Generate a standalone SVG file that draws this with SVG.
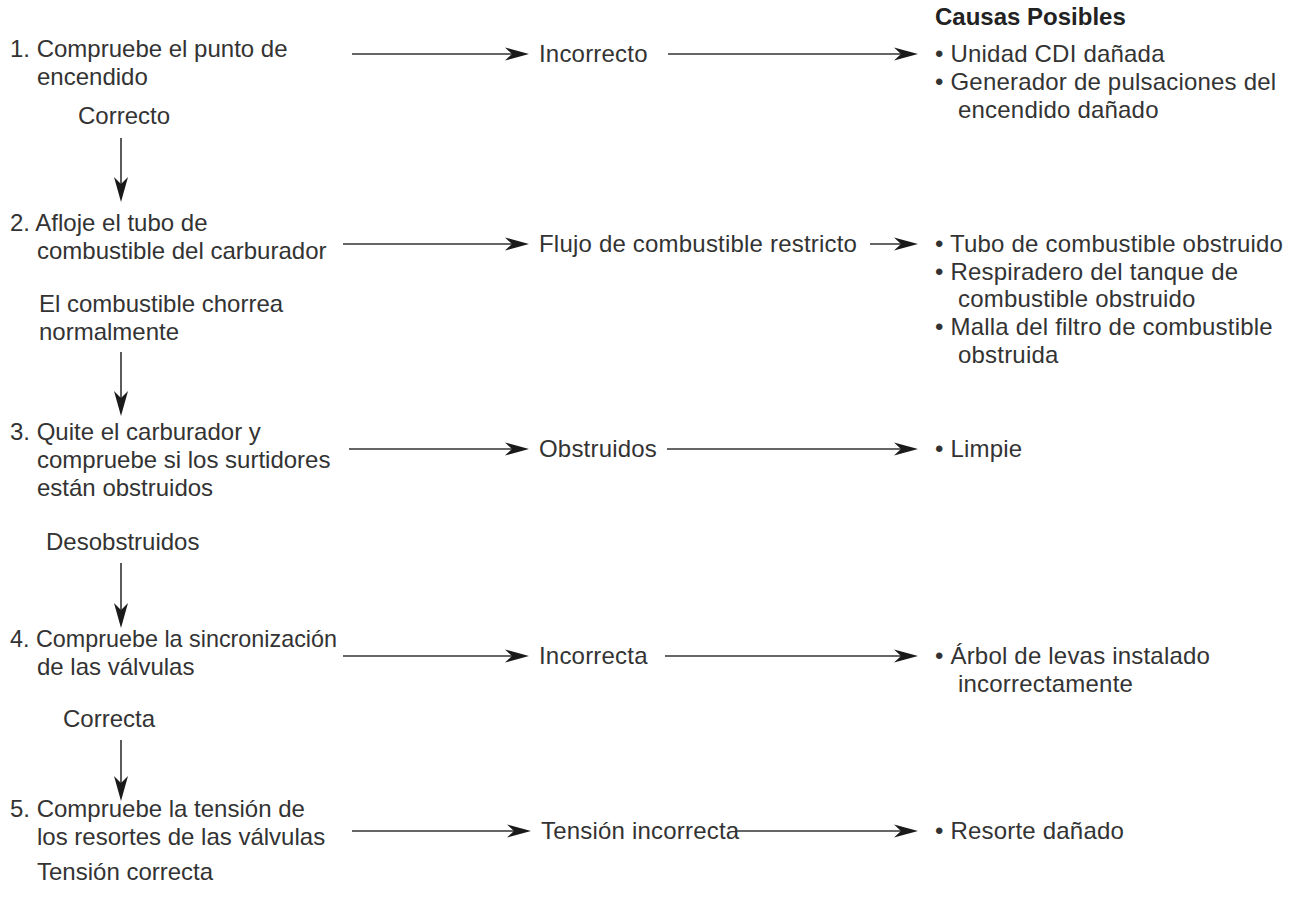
<svg xmlns="http://www.w3.org/2000/svg" width="1291" height="901" viewBox="0 0 1291 901">
<style>
text{font-family:"Liberation Sans",Arial,sans-serif;font-size:24px;fill:#333;letter-spacing:0.2px}
.l{letter-spacing:0}
.b{font-weight:bold;letter-spacing:0;fill:#222}
.ln{stroke:#333;stroke-width:1.6;fill:none}
.ah{fill:#1a1a1a;stroke:none}
</style>
<defs>
<path id="ahr" class="ah" d="M0,0 L-24,-6.5 L-17,0 L-24,6.5 Z"/>
<path id="ahd" class="ah" d="M0,0 L-7,-25 L0,-18 L7,-25 Z"/>
</defs>
<rect width="1291" height="901" fill="#fff"/>
<g id="connectors">
<line class="ln" x1="352" y1="54" x2="515" y2="54"/><use href="#ahr" x="529" y="54"/>
<line class="ln" x1="668" y1="54" x2="904" y2="54"/><use href="#ahr" x="918" y="54"/>
<line class="ln" x1="343" y1="244" x2="515" y2="244"/><use href="#ahr" x="529" y="244"/>
<line class="ln" x1="870" y1="244" x2="904" y2="244"/><use href="#ahr" x="918" y="244"/>
<line class="ln" x1="349" y1="449" x2="515" y2="449"/><use href="#ahr" x="529" y="449"/>
<line class="ln" x1="667" y1="449" x2="904" y2="449"/><use href="#ahr" x="918" y="449"/>
<line class="ln" x1="343" y1="656" x2="515" y2="656"/><use href="#ahr" x="529" y="656"/>
<line class="ln" x1="665" y1="656" x2="904" y2="656"/><use href="#ahr" x="918" y="656"/>
<line class="ln" x1="352" y1="831" x2="517" y2="831"/><use href="#ahr" x="531" y="831"/>
<line class="ln" x1="735" y1="831" x2="904" y2="831"/><use href="#ahr" x="918" y="831"/>
<line class="ln" x1="121" y1="138" x2="121" y2="186"/><use href="#ahd" x="121" y="202"/>
<line class="ln" x1="121" y1="352" x2="121" y2="401"/><use href="#ahd" x="121" y="416"/>
<line class="ln" x1="121" y1="563" x2="121" y2="613"/><use href="#ahd" x="121" y="628"/>
<line class="ln" x1="121" y1="740" x2="121" y2="786"/><use href="#ahd" x="121" y="801"/>
</g>
<g id="step1" class="l"><text class="l" x="10" y="57">1. Compruebe el punto de</text><text class="l" x="37" y="85">encendido</text></g>
<g id="label-correcto"><text class="l" x="78" y="124">Correcto</text></g>
<g id="step2"><text class="l" x="10" y="231">2. Afloje el tubo de</text><text class="l" x="37" y="259">combustible del carburador</text></g>
<g id="label-chorrea"><text class="l" x="39" y="312">El combustible chorrea</text><text class="l" x="39" y="340">normalmente</text></g>
<g id="step3"><text class="l" x="10" y="440">3. Quite el carburador y</text><text class="l" x="37" y="468">compruebe si los surtidores</text><text class="l" x="37" y="496">están obstruidos</text></g>
<g id="label-desobstruidos"><text class="l" x="46" y="550">Desobstruidos</text></g>
<g id="step4"><text class="l" x="10" y="647" textLength="327" lengthAdjust="spacingAndGlyphs">4. Compruebe la sincronización</text><text class="l" x="37" y="675">de las válvulas</text></g>
<g id="label-correcta"><text class="l" x="63" y="727">Correcta</text></g>
<g id="step5"><text class="l" x="10" y="817">5. Compruebe la tensión de</text><text class="l" x="37" y="845">los resortes de las válvulas</text></g>
<g id="label-tension-correcta"><text class="l" x="37" y="880">Tensión correcta</text></g>
<g id="res1"><text x="539" y="62">Incorrecto</text></g>
<g id="res2"><text x="539" y="252">Flujo de combustible restricto</text></g>
<g id="res3"><text x="539" y="457">Obstruidos</text></g>
<g id="res4"><text x="539" y="664">Incorrecta</text></g>
<g id="res5"><text x="541" y="839">Tensión incorrecta</text></g>
<g id="causas-title"><text class="b" x="935" y="25">Causas Posibles</text></g>
<g id="causa1"><text x="935" y="62">• Unidad CDI dañada</text><text x="935" y="90">• Generador de pulsaciones del</text><text x="958" y="118">encendido dañado</text></g>
<g id="causa2"><text x="935" y="252">• Tubo de combustible obstruido</text><text x="935" y="280">• Respiradero del tanque de</text><text x="958" y="307">combustible obstruido</text><text x="935" y="335">• Malla del filtro de combustible</text><text x="958" y="363">obstruida</text></g>
<g id="causa3"><text x="935" y="457">• Limpie</text></g>
<g id="causa4"><text x="935" y="664">• Árbol de levas instalado</text><text x="958" y="692">incorrectamente</text></g>
<g id="causa5"><text x="935" y="839">• Resorte dañado</text></g>
</svg>
